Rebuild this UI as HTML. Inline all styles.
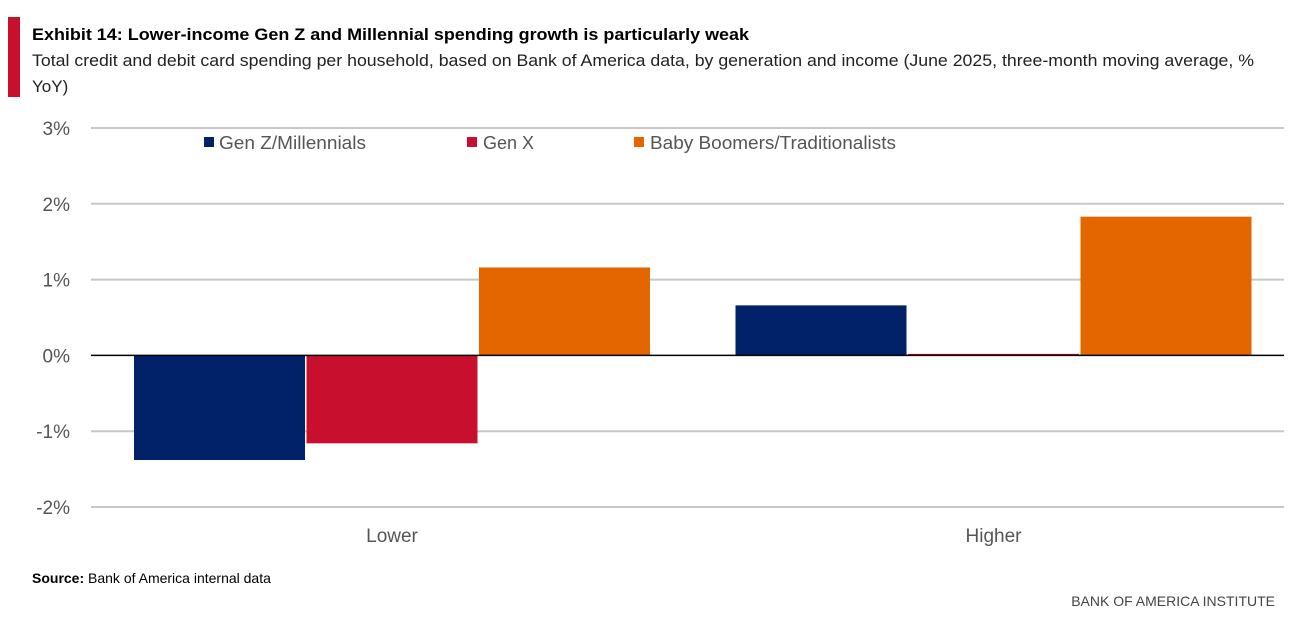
<!DOCTYPE html>
<html><head><meta charset="utf-8"><style>
body{margin:0;background:#fff;width:1292px;height:630px;overflow:hidden;font-family:"Liberation Sans",sans-serif}
svg{display:block}
</style></head><body>
<svg id="c" width="1292" height="630">
<rect x="8" y="17" width="12" height="80" fill="#c8102e"/>
<text x="32" y="40" font-size="17" font-weight="bold" fill="#000" textLength="717" lengthAdjust="spacingAndGlyphs">Exhibit 14: Lower-income Gen Z and Millennial spending growth is particularly weak</text>
<text x="32" y="66" font-size="17" fill="#222" textLength="1222" lengthAdjust="spacingAndGlyphs">Total credit and debit card spending per household, based on Bank of America data, by generation and income (June 2025, three-month moving average, %</text>
<text x="32" y="92" font-size="17" fill="#222">YoY)</text>
<g id="grid"></g><g id="bars"></g><g id="axes"></g>
<g>
<rect x="204" y="137" width="10" height="10" fill="#012169"/>
<text x="219" y="149" font-size="18" fill="#555" textLength="147" lengthAdjust="spacingAndGlyphs">Gen Z/Millennials</text>
<rect x="467" y="137" width="10" height="10" fill="#c8102e"/>
<text x="483" y="149" font-size="18" fill="#555">Gen X</text>
<rect x="634" y="137" width="10" height="10" fill="#e36600"/>
<text x="650" y="149" font-size="18" fill="#555" textLength="246" lengthAdjust="spacingAndGlyphs">Baby Boomers/Traditionalists</text>
</g>
<text x="32" y="583" font-size="14" fill="#000"><tspan font-weight="bold">Source:</tspan> Bank of America internal data</text>
<text x="1275" y="606" font-size="14" fill="#444" text-anchor="end">BANK OF AMERICA INSTITUTE</text>
</svg>
<script>
const categories=["Lower","Higher"];
const seriesNames=["Gen Z/Millennials","Gen X","Baby Boomers/Traditionalists"];
const genZ=[-1.38,0.66];
const genX=[-1.16,0.02];
const boomers=[1.16,1.83];
const yTicks=[3,2,1,0,-1,-2];
const yTickLabels=["3%","2%","1%","0%","-1%","-2%"];
const colors=["#012169","#c8102e","#e36600"];
const NS="http://www.w3.org/2000/svg";
const x0=91,x1=1284,yTop=128,yBot=507,vMax=3,vMin=-2;
function y(v){return yTop+(vMax-v)*(yBot-yTop)/(vMax-vMin);}
const groupW=(x1-x0)/categories.length;
function gx(i){return x0+i*groupW;}
function mk(tag,attrs,parent){const e=document.createElementNS(NS,tag);for(const k in attrs)e.setAttribute(k,attrs[k]);document.getElementById(parent).appendChild(e);return e;}
yTicks.forEach((t,i)=>{
  if(t!==0){const l=mk('line',{x1:x0,x2:x1,y1:y(t),y2:y(t),stroke:'#c8c8c8','stroke-width':2},'grid');
  
  }
  const tx=mk('text',{x:70,y:y(t)+7,'font-size':19,fill:'#555','text-anchor':'end'},'axes');
  tx.textContent=yTickLabels[i];
  
  
});
const series=[genZ,genX,boomers];
const barW=171,gap=1.5;
categories.forEach((c,i)=>{
  const start=gx(i)+43+i*5;
  series.forEach((s,j)=>{
    const v=s[i];const yy=Math.min(y(v),y(0));const h=Math.abs(y(v)-y(0));
    const r=mk('rect',{x:start+j*(barW+gap),y:yy,width:barW,height:Math.max(h,1),fill:colors[j]},'bars');
    
    
  });
  const t=mk('text',{x:start+1.5*barW+gap,y:542,'font-size':19,fill:'#555','text-anchor':'middle'},'axes');
  t.textContent=c;
  
  
});
const z=mk('line',{x1:x0,x2:x1,y1:y(0),y2:y(0),stroke:'#000','stroke-width':1.5},'axes');


</script>
</body></html>
